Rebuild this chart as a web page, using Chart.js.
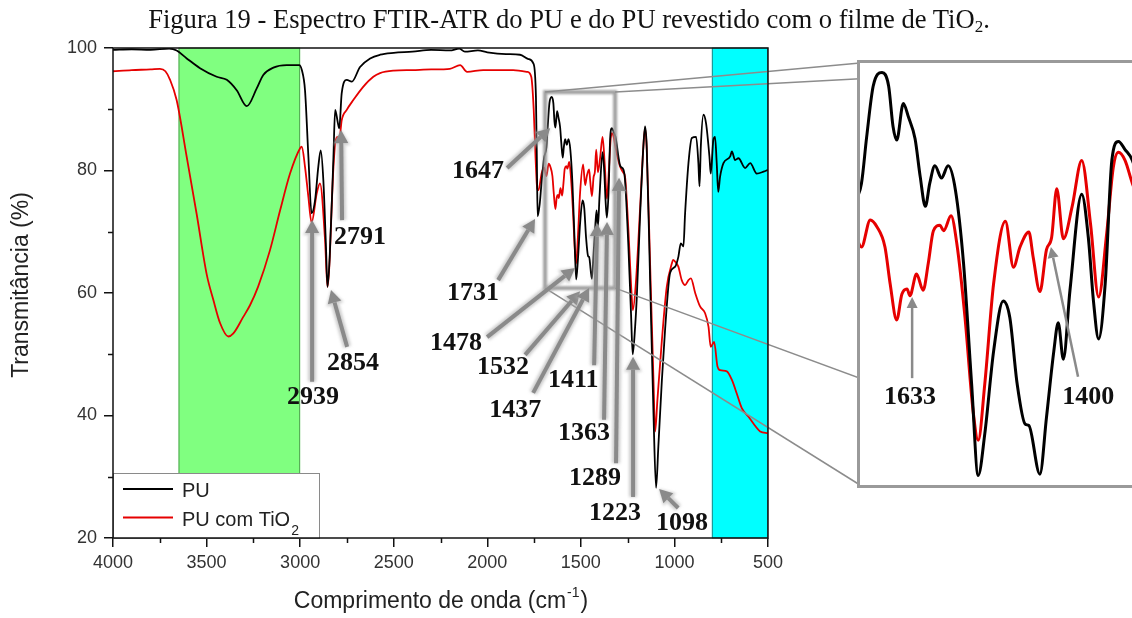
<!DOCTYPE html>
<html lang="pt">
<head>
<meta charset="utf-8">
<title>Espectro FTIR-ATR do PU</title>
<script src="https://cdn.jsdelivr.net/npm/chart.js@4.4.1/dist/chart.umd.min.js"></script>
<style>
  html, body { margin: 0; padding: 0; overflow: hidden; background: #fff; }
  #pagina { position: relative; width: 1132px; height: 618px; }
  #titulo {
    position: absolute; left: 0; top: 6px; width: 1138px; text-align: center;
    font-family: 'Liberation Serif', 'Times New Roman', serif; font-size: 26.6px; line-height: 26px; color: #111;
  }
  #titulo sub { font-size: 17px; vertical-align: -4px; line-height: 0; }
  #grafico { position: absolute; left: 0; top: 0; }
  #detalheBox { position: absolute; background: #fff; border: 3px solid #9a9a9a; }
  #detalhe { display: block; }
</style>
</head>
<body>
<div id="pagina">
  <canvas id="grafico" width="1132" height="618"></canvas>
  <div id="titulo">Figura 19 - Espectro FTIR-ATR do PU e do PU revestido com o filme de TiO<sub>2</sub>.</div>
  <div id="detalheBox"><canvas id="detalhe"></canvas></div>
</div>
<script>
// espectro do PU puro (número de onda em cm-1, transmitância em %)
const puWavenumber = [
  4000, 3900, 3800, 3700, 3660, 3606, 3535, 3446, 3392, 3339, 3285, 3232, 3197, 3143, 3072, 3005,
  2991, 2974, 2956, 2939, 2920, 2903, 2890, 2876, 2862, 2854, 2842, 2822, 2813, 2798, 2791, 2778,
  2751, 2724, 2680, 2626, 2573, 2500, 2400, 2300, 2200, 2150, 2120, 2050, 2000, 1900, 1825, 1780,
  1754, 1740, 1735, 1731, 1720, 1709, 1697,
  1684, 1677, 1668, 1656, 1647, 1641, 1636, 1627, 1620, 1611, 1604, 1597, 1591, 1584, 1575, 1566,
  1556, 1545, 1534, 1525, 1516, 1504, 1491, 1482, 1472, 1461, 1456, 1441, 1432, 1422, 1416, 1409,
  1400, 1384, 1375, 1368, 1361, 1352, 1343, 1334, 1325, 1315,
  1290, 1272, 1264, 1246, 1232, 1223, 1210, 1201, 1183, 1166, 1157, 1148, 1130, 1112, 1098, 1086,
  1067, 1050, 1023, 996, 979, 966, 952, 943, 925, 907, 884, 872, 866, 859, 845, 831,
  813, 806, 792, 783, 774, 766, 756, 738, 702, 693, 676, 658, 622, 595, 560, 524, 500
];
const puTransmittance = [
  99.7, 99.8, 99.7, 99.9, 99.6, 98.3, 96.7, 95.3, 94.8, 93.1, 90.5, 93.4, 95.6, 96.8, 97.2, 97.2,
  96.4, 93.1, 82.3, 73.0, 75.2, 80.6, 83.3, 78.4, 67.6, 61.0, 65.9, 82.3, 89.9, 87.7, 86.9, 92.6,
  94.8, 94.5, 96.9, 98.3, 98.9, 99.2, 99.4, 99.7, 99.6, 99.9, 99.4, 99.6, 99.3, 99.0, 98.9, 98.2,
  97.5, 92.0, 81.5, 72.5, 74.5, 78.4, 82.0,
  83.8, 87.2, 91.0, 92.0, 91.0, 88.0, 87.0, 89.7, 88.7, 87.1, 84.3, 82.1, 83.8, 85.1, 84.2, 85.1,
  83.3, 77.9, 69.0, 62.2, 65.3, 71.4, 75.1, 73.9, 69.0, 66.0, 65.9, 62.3, 66.5, 71.4, 73.5, 70.8,
  75.9, 83.0, 79.8, 75.1, 72.3, 76.4, 85.5, 86.9, 86.3, 85.5,
  80.8, 80.1, 78.4, 67.6, 56.7, 50.0, 54.5, 59.4, 73.0, 83.9, 87.2, 83.9, 62.1, 40.4, 28.2, 34.9,
  45.8, 54.0, 63.3, 64.3, 65.9, 68.1, 67.6, 73.0, 81.2, 85.3, 85.5, 81.2, 77.4, 83.9, 89.1, 87.7,
  82.3, 79.5, 85.0, 85.5, 81.2, 76.5, 79.0, 81.2, 82.3, 83.1, 81.7, 82.0, 80.4, 81.2, 79.5, 79.8, 80.1
];

// espectro do PU revestido com TiO2
const tio2Wavenumber = [
  4000, 3900, 3800, 3749, 3720, 3695, 3660, 3606, 3553, 3499, 3464, 3428, 3384, 3357, 3304, 3268,
  3225, 3161, 3107, 3054, 3001, 2991, 2974, 2956, 2939, 2911, 2894, 2867, 2854, 2822, 2813, 2801,
  2791, 2778, 2751, 2716, 2662, 2609, 2573, 2500, 2400, 2300, 2200, 2145, 2108, 2022, 1862, 1787,
  1765, 1752, 1742, 1733, 1727, 1709, 1697,
  1684, 1672, 1663, 1652, 1645, 1636, 1629, 1622, 1618, 1609, 1600, 1593, 1586, 1577, 1572, 1562,
  1554, 1543, 1532, 1525, 1516, 1504, 1488, 1477, 1468, 1456, 1450, 1441, 1432, 1425, 1418, 1409,
  1397, 1384, 1372, 1361, 1350, 1341, 1334, 1325, 1315,
  1290, 1272, 1264, 1246, 1232, 1222, 1205, 1183, 1166, 1157, 1148, 1130, 1112, 1103, 1091, 1067,
  1041, 1014, 1007, 996, 979, 961, 943, 925, 912, 889, 863, 836, 818, 806, 788, 770,
  756, 720, 693, 667, 640, 604, 578, 542, 500
];
const tio2Transmittance = [
  96.2, 96.4, 96.5, 96.6, 96.2, 94.8, 91.5, 82.2, 72.9, 63.0, 58.9, 55.1, 52.9, 53.4, 56.1, 58.0,
  61.0, 67.0, 73.5, 79.5, 83.6, 83.9, 80.6, 75.7, 71.5, 76.3, 77.9, 68.7, 61.0, 80.6, 84.4, 85.5,
  85.0, 88.2, 89.9, 91.5, 93.7, 95.3, 95.9, 96.3, 96.4, 96.5, 96.6, 97.2, 96.1, 96.4, 96.4, 96.1,
  95.3, 90.0, 82.0, 77.0, 76.8, 79.6, 80.5,
  79.1, 81.1, 80.6, 79.1, 76.4, 73.7, 75.6, 76.0, 75.5, 77.1, 75.9, 77.9, 80.3, 80.7, 80.3, 81.4,
  79.3, 73.9, 67.0, 64.8, 69.0, 76.4, 81.0, 77.6, 79.1, 80.2, 78.3, 75.8, 78.9, 79.8, 83.4, 79.7,
  82.1, 85.5, 80.8, 75.4, 80.1, 85.0, 86.1, 85.5, 83.8,
  80.6, 79.6, 79.0, 70.3, 61.5, 57.2, 62.1, 74.1, 83.9, 86.9, 83.5, 64.8, 45.8, 37.4, 42.5, 52.3,
  61.0, 64.8, 65.4, 65.1, 64.3, 62.1, 61.3, 62.1, 62.4, 60.0, 57.8, 56.7, 54.5, 51.2, 52.0, 48.0,
  47.4, 47.2, 45.8, 43.6, 41.2, 39.8, 38.7, 37.4, 37.1
];

const seriesLabels = ['PU', 'PU com TiO₂'];
const seriesColors = ['#000000', '#e60000'];

// faixas destacadas no espectro
const shadedBands = [
  { from: 3650, to: 3000, fill: '#80ff80', edge: 'rgba(60,120,60,0.7)' },
  { from: 800, to: 500, fill: '#00ffff', edge: 'rgba(40,110,110,0.8)' }
];

// região ampliada (1700-1300 cm-1) e onde o detalhe aparece na página
const zoomWindow = { wnFrom: 1691, wnTo: 1317, tLow: 60.8, tHigh: 92.8 };
const insetRange = { wnMin: 1291, wnMax: 1686, tMin: 61.5, tMax: 92.7 };
const insetBox = { left: 860, top: 63, width: 290, height: 422 };

// picos marcados: texto, posição do rótulo, início da seta e ponta (cm-1, %)
const peakNotes = [
  { text: '2939', label: [2931, 43.0], tail: [2936, 45.5], tip: [2936, 71.9] },
  { text: '2854', label: [2717, 48.6], tail: [2749, 51.2], tip: [2835, 60.5] },
  { text: '2791', label: [2680, 69.1], tail: [2776, 71.9], tip: [2781, 86.6] },
  { text: '1647', label: [2049, 79.8], tail: [1894, 80.4], tip: [1664, 86.9] },
  { text: '1731', label: [2076, 60.0], tail: [1942, 62.1], tip: [1745, 72.1] },
  { text: '1478', label: [2167, 51.8], tail: [2001, 52.8], tip: [1531, 64.1] },
  { text: '1532', label: [1916, 47.8], tail: [1798, 49.9], tip: [1504, 60.3] },
  { text: '1411', label: [1541, 45.8], tail: [1429, 48.2], tip: [1413, 71.4] },
  { text: '1437', label: [1851, 40.9], tail: [1755, 43.7], tip: [1456, 60.8] },
  { text: '1363', label: [1483, 37.1], tail: [1376, 39.3], tip: [1360, 71.6] },
  { text: '1289', label: [1424, 29.8], tail: [1312, 32.2], tip: [1296, 78.8] },
  { text: '1223', label: [1317, 24.1], tail: [1221, 26.7], tip: [1221, 49.6] },
  { text: '1098', label: [959, 22.4], tail: [980, 24.9], tip: [1082, 28.0] }
];
const insetNotes = [
  { text: '1633', label: [1618, 68.0], tail: [1615, 69.4], tip: [1615, 75.4] },
  { text: '1400', label: [1375, 68.0], tail: [1389, 69.5], tip: [1426, 79.1] }
];

const SANS = "'Liberation Sans', Arial, sans-serif";
const SERIF = "'Liberation Serif', 'Times New Roman', serif";

function toPoints(xs, ys) {
  return xs.map((x, i) => ({ x: x, y: ys[i] }));
}

function buildDatasets(width) {
  return [
    { label: seriesLabels[0], data: toPoints(puWavenumber, puTransmittance), borderColor: seriesColors[0], borderWidth: width },
    { label: seriesLabels[1], data: toPoints(tio2Wavenumber, tio2Transmittance), borderColor: seriesColors[1], borderWidth: width }
  ];
}

function drawArrow(ctx, x0, y0, x1, y1, head, half) {
  const ang = Math.atan2(y1 - y0, x1 - x0);
  const bx = x1 - Math.cos(ang) * head, by = y1 - Math.sin(ang) * head;
  ctx.beginPath();
  ctx.moveTo(x0, y0);
  ctx.lineTo(bx, by);
  ctx.stroke();
  ctx.beginPath();
  ctx.moveTo(x1, y1);
  ctx.lineTo(bx + Math.sin(ang) * half, by - Math.cos(ang) * half);
  ctx.lineTo(bx - Math.sin(ang) * half, by + Math.cos(ang) * half);
  ctx.closePath();
  ctx.fill();
}

function drawNotes(ctx, notes, xs, ys, style) {
  const px = p => [xs.getPixelForValue(p[0]), ys.getPixelForValue(p[1])];
  ctx.save();
  notes.forEach(n => {
    const [x0, y0] = px(n.tail), [x1, y1] = px(n.tip);
    if (style.halo) {
      ctx.filter = 'blur(1.5px)';
      ctx.strokeStyle = style.halo; ctx.fillStyle = style.halo;
      ctx.lineWidth = style.width + 4;
      drawArrow(ctx, x0, y0, x1, y1, style.head + 2, style.half + 2);
      ctx.filter = 'none';
    }
    ctx.strokeStyle = style.color; ctx.fillStyle = style.color;
    ctx.lineWidth = style.width;
    drawArrow(ctx, x0, y0, x1, y1, style.head, style.half);
  });
  ctx.fillStyle = '#111';
  ctx.font = 'bold 26px ' + SERIF;
  ctx.textAlign = 'center';
  ctx.textBaseline = 'middle';
  notes.forEach(n => {
    const [lx, ly] = px(n.label);
    ctx.fillText(n.text, lx, ly);
  });
  ctx.restore();
}

// rótulo com "₂" desenhado como subscrito
function drawChemText(ctx, text, x, y, size) {
  const parts = text.split('₂');
  ctx.font = size + 'px ' + SANS;
  ctx.fillText(parts[0], x, y);
  if (parts.length > 1) {
    const w = ctx.measureText(parts[0]).width;
    ctx.font = Math.round(size * 0.68) + 'px ' + SANS;
    ctx.fillText('2', x + w + 1, y + 9);
  }
}

const mainDecor = {
  id: 'mainDecor',
  beforeDatasetsDraw(chart) {
    const { ctx, chartArea: a, scales: { x } } = chart;
    ctx.save();
    shadedBands.forEach(b => {
      const x0 = x.getPixelForValue(b.from), x1 = x.getPixelForValue(b.to);
      ctx.fillStyle = b.fill;
      ctx.fillRect(x0, a.top, x1 - x0, a.bottom - a.top);
      ctx.strokeStyle = b.edge;
      ctx.lineWidth = 1;
      ctx.strokeRect(x0 + 0.5, a.top, x1 - x0 - 1, a.bottom - a.top);
    });
    ctx.restore();
  },
  afterDatasetsDraw(chart) {
    const { ctx, chartArea: a, scales: { x, y } } = chart;
    ctx.save();

    // legenda no canto inferior esquerdo
    const lx = a.left, lw = 207, lh = 65, ly = a.bottom - lh;
    ctx.fillStyle = '#fff';
    ctx.fillRect(lx, ly, lw, lh);
    ctx.strokeStyle = '#8a8a8a';
    ctx.lineWidth = 1;
    ctx.strokeRect(lx + 0.5, ly + 0.5, lw - 1, lh);
    chart.data.datasets.forEach((ds, i) => {
      const yy = ly + 16 + i * 28.5;
      ctx.strokeStyle = ds.borderColor;
      ctx.lineWidth = 2;
      ctx.beginPath();
      ctx.moveTo(lx + 10, yy);
      ctx.lineTo(lx + 60, yy);
      ctx.stroke();
      ctx.fillStyle = '#222';
      ctx.textAlign = 'left';
      ctx.textBaseline = 'alphabetic';
      drawChemText(ctx, ds.label, lx + 69, yy + 8, 20);
    });

    // retângulo da região ampliada e linhas até o detalhe
    const rx0 = x.getPixelForValue(zoomWindow.wnFrom), rx1 = x.getPixelForValue(zoomWindow.wnTo);
    const ry0 = y.getPixelForValue(zoomWindow.tHigh), ry1 = y.getPixelForValue(zoomWindow.tLow);
    ctx.filter = 'blur(1px)';
    ctx.strokeStyle = 'rgba(150,150,150,0.9)';
    ctx.lineWidth = 4;
    ctx.strokeRect(rx0, ry0, rx1 - rx0, ry1 - ry0);
    ctx.filter = 'none';
    const bl = insetBox.left, bt = insetBox.top, br = insetBox.left + insetBox.width, bb = insetBox.top + insetBox.height;
    ctx.strokeStyle = '#8c8c8c';
    ctx.lineWidth = 1.5;
    [[rx0, ry0, bl, bt], [rx1, ry0, br, bt], [rx1, ry1, br, bb], [rx0, ry1, bl, bb]].forEach(s => {
      ctx.beginPath();
      ctx.moveTo(s[0], s[1]);
      ctx.lineTo(s[2], s[3]);
      ctx.stroke();
    });
    ctx.restore();

    drawNotes(ctx, peakNotes, x, y, { color: '#8a8a8a', halo: 'rgba(170,170,170,0.6)', width: 4, head: 13, half: 7 });

    // moldura e marcas menores
    ctx.save();
    ctx.strokeStyle = '#111';
    ctx.lineWidth = 1.5;
    ctx.strokeRect(a.left, a.top, a.right - a.left, a.bottom - a.top);
    ctx.beginPath();
    x.ticks.forEach(t => {
      if (t.value % 500 !== 0) {
        const px = Math.round(x.getPixelForValue(t.value)) + 0.5;
        ctx.moveTo(px, a.bottom);
        ctx.lineTo(px, a.bottom + 5);
      }
    });
    y.ticks.forEach(t => {
      if (t.value % 20 !== 0) {
        const py = Math.round(y.getPixelForValue(t.value)) + 0.5;
        ctx.moveTo(a.left, py);
        ctx.lineTo(a.left - 5, py);
      }
    });
    ctx.stroke();

    // títulos dos eixos
    ctx.fillStyle = '#222';
    ctx.textBaseline = 'alphabetic';
    ctx.font = '23px ' + SANS;
    const main = 'Comprimento de onda (cm';
    const wMain = ctx.measureText(main).width;
    ctx.font = '14px ' + SANS;
    const wSup = ctx.measureText('-1').width;
    ctx.font = '23px ' + SANS;
    const wEnd = ctx.measureText(')').width;
    let tx = 441 - (wMain + wSup + wEnd + 2) / 2;
    const ty = a.bottom + 70;
    ctx.textAlign = 'left';
    ctx.fillText(main, tx, ty);
    tx += wMain + 1;
    ctx.font = '14px ' + SANS;
    ctx.fillText('-1', tx, ty - 11);
    tx += wSup + 1;
    ctx.font = '23px ' + SANS;
    ctx.fillText(')', tx, ty);

    ctx.translate(22, (a.top + a.bottom) / 2 - 8);
    ctx.rotate(-Math.PI / 2);
    ctx.textAlign = 'center';
    ctx.textBaseline = 'middle';
    ctx.font = '23px ' + SANS;
    ctx.fillText('Transmitância (%)', 0, 0);
    ctx.restore();
  }
};

const tickFont = { family: SANS, size: 18 };

new Chart(document.getElementById('grafico'), {
  type: 'line',
  data: { datasets: buildDatasets(1.8) },
  options: {
    responsive: false,
    animation: false,
    devicePixelRatio: 1,
    layout: { padding: { top: 48, right: 364, bottom: 0, left: 0 } },
    elements: {
      point: { radius: 0 },
      line: { cubicInterpolationMode: 'monotone', borderJoinStyle: 'round' }
    },
    plugins: { legend: { display: false }, tooltip: { enabled: false } },
    scales: {
      x: {
        type: 'linear', reverse: true, min: 500, max: 4000,
        afterFit(scale) { scale.height = 80; },
        border: { display: false },
        grid: {
          drawOnChartArea: false, tickLength: 9, lineWidth: 1.5,
          color: c => (c.tick && c.tick.value % 500 === 0) ? '#111' : 'rgba(0,0,0,0)'
        },
        ticks: {
          stepSize: 250, autoSkip: false, maxRotation: 0, padding: 5, color: '#333', font: tickFont,
          callback: v => (v % 500 === 0 ? v : '')
        }
      },
      y: {
        min: 20, max: 100,
        afterFit(scale) { scale.width = 113; },
        border: { display: false },
        grid: {
          drawOnChartArea: false, tickLength: 9, lineWidth: 1.5,
          color: c => (c.tick && c.tick.value % 20 === 0) ? '#111' : 'rgba(0,0,0,0)'
        },
        ticks: {
          stepSize: 10, autoSkip: false, padding: 7, color: '#333', font: tickFont,
          callback: v => (v % 20 === 0 ? v : '')
        }
      }
    }
  },
  plugins: [mainDecor]
});

// detalhe ampliado
const box = document.getElementById('detalheBox');
box.style.left = (insetBox.left - 3) + 'px';
box.style.top = (insetBox.top - 3) + 'px';
const detalhe = document.getElementById('detalhe');
detalhe.width = insetBox.width;
detalhe.height = insetBox.height;

const insetDecor = {
  id: 'insetDecor',
  afterDatasetsDraw(chart) {
    drawNotes(chart.ctx, insetNotes, chart.scales.x, chart.scales.y, { color: '#8a8a8a', width: 2.5, head: 11, half: 5.5 });
  }
};

new Chart(detalhe, {
  type: 'line',
  data: { datasets: buildDatasets(3) },
  options: {
    responsive: false,
    animation: false,
    devicePixelRatio: 1,
    layout: { padding: 0 },
    elements: {
      point: { radius: 0 },
      line: { cubicInterpolationMode: 'monotone', borderJoinStyle: 'round' }
    },
    plugins: { legend: { display: false }, tooltip: { enabled: false } },
    scales: {
      x: { type: 'linear', reverse: true, min: insetRange.wnMin, max: insetRange.wnMax, display: false },
      y: { min: insetRange.tMin, max: insetRange.tMax, display: false }
    }
  },
  plugins: [insetDecor]
});
</script>
</body>
</html>
